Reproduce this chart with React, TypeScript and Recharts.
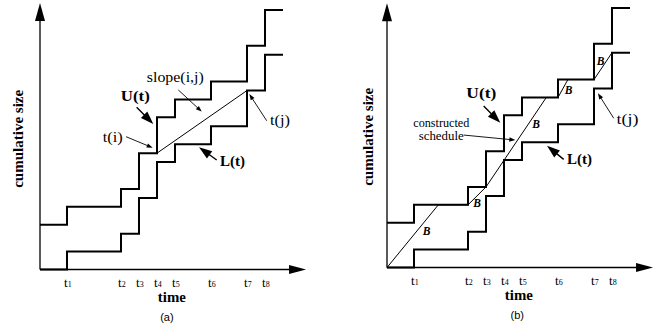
import React from 'react';
import { LineChart, Line, XAxis, YAxis, ReferenceLine, ReferenceDot } from 'recharts';

// ---- data (time units / cumulative size units) ----
const stepTimes = [0, 3, 9, 11, 13, 15, 19, 23, 25, 27];
const lowerCurve = [0, 1, 2, 4, 6, 7, 8, 10, 12, 12];
const upperCurve = [2.5, 3.5, 4.5, 6.5, 8.5, 9.5, 10.5, 12.5, 14.5, 14.5];
const tickTimes = [3, 9, 11, 13, 15, 19, 23, 25];
const tickLabels = ['1', '2', '3', '4', '5', '6', '7', '8'];
const slopeTimes = [13, 23];
const slopeValues = [6.5, 10];
const scheduleTimes = [0, 5.7, 9, 11, 17.7, 19, 20.1, 23, 25];
const scheduleValues = [0, 3.5, 3.5, 4.5, 9.5, 9.5, 10.5, 10.5, 12];
const bufferLabelTimes = [4.39, 10.02, 16.56, 20.17, 23.72];
const bufferLabelValues = [2.06, 3.61, 7.99, 9.89, 11.53];

const SERIF = '"Liberation Serif", "Times New Roman", serif';
const SANS = '"Liberation Sans", Arial, sans-serif';

const rows = (xs: number[], ys: number[]) => xs.map((t, i) => ({ t, v: ys[i] }));
const upperRows = rows(stepTimes, upperCurve);
const lowerRows = rows(stepTimes, lowerCurve);
const slopeRows = rows(slopeTimes, slopeValues);
const scheduleRows = rows(scheduleTimes, scheduleValues);

const arrowShape = (head: number, w: number, sw: number) => (p: any) => {
  const { x1, y1, x2, y2 } = p;
  const dx = x2 - x1;
  const dy = y2 - y1;
  const len = Math.hypot(dx, dy) || 1;
  const ux = dx / len;
  const uy = dy / len;
  const bx = x2 - ux * head;
  const by = y2 - uy * head;
  const px = (-uy * w) / 2;
  const py = (ux * w) / 2;
  return (
    <g>
      <line x1={x1} y1={y1} x2={bx + ux} y2={by + uy} stroke="#000" strokeWidth={sw} />
      <polygon points={`${x2},${y2} ${bx + px},${by + py} ${bx - px},${by - py}`} fill="#000" />
    </g>
  );
};

type LabelOpts = {
  size: number;
  weight?: string;
  style?: string;
  family?: string;
  len?: number;
  anchor?: string;
  rotate?: boolean;
  baseline?: string;
};

const textShape = (text: string, o: LabelOpts) => (p: any) => (
  <text
    x={p.cx}
    y={p.cy}
    textAnchor={o.anchor ?? 'middle'}
    dominantBaseline={o.baseline}
    fontFamily={o.family ?? SERIF}
    fontSize={o.size}
    fontWeight={o.weight ?? 'normal'}
    fontStyle={o.style ?? 'normal'}
    textLength={o.len}
    lengthAdjust={o.len ? 'spacingAndGlyphs' : undefined}
    transform={o.rotate ? `rotate(-90 ${p.cx} ${p.cy})` : undefined}
    fill="#000"
  >
    {text}
  </text>
);

const tickShape = (label: string) => (p: any) => (
  <text x={p.cx - 3} y={p.cy} fontFamily={SERIF} fontSize={13} fill="#000">
    t<tspan fontSize={8}>{label}</tspan>
  </text>
);

const thinArrow = arrowShape(6, 4.5, 0.9);
const fatArrow = arrowShape(13, 9, 1.4);
const axisArrow = (head: number, w: number) => arrowShape(head, w, 1.3);

type Ann = { text: string; x: number; y: number; o: LabelOpts };
type Arr = { from: [number, number]; to: [number, number]; fat?: boolean };

function Panel(props: {
  left: number;
  margin: { top: number; right: number; bottom: number; left: number };
  yDomain: [number, number];
  yTip: number;
  caption: string;
  annotations: Ann[];
  arrows: Arr[];
  slope?: boolean;
  schedule?: boolean;
}) {
  const { left, margin, yDomain, yTip, caption, annotations, arrows, slope, schedule } = props;
  const all: Ann[] = [
    { text: 'cumulative size', x: props.schedule ? -1.5 : -1.89, y: 7.3, o: { size: 15, weight: 'bold', len: 98, rotate: true } },
    { text: 'time', x: 14.65, y: -1.8, o: { size: 14.5, weight: 'bold', len: 28 } },
    { text: caption, x: props.schedule ? 14.48 : 14.1, y: -2.9, o: { size: 11, family: SANS } },
    ...annotations,
  ];
  return (
    <div style={{ position: 'absolute', left, top: 0 }}>
      <LineChart width={330} height={328} margin={margin}>
        <XAxis type="number" dataKey="t" domain={[-4, 30]} allowDataOverflow hide />
        <YAxis type="number" dataKey="v" domain={yDomain} allowDataOverflow hide />
        <ReferenceLine segment={[{ x: 0, y: 0 }, { x: 29.56, y: 0 }]} shape={axisArrow(17, 9)} />
        <ReferenceLine segment={[{ x: 0, y: 0 }, { x: 0, y: yTip }]} shape={axisArrow(18, 10)} />
        <Line data={upperRows} dataKey="v" type="stepAfter" stroke="#000" strokeWidth={2} dot={false} activeDot={false} isAnimationActive={false} />
        <Line data={lowerRows} dataKey="v" type="stepAfter" stroke="#000" strokeWidth={2} dot={false} activeDot={false} isAnimationActive={false} />
        {slope && (
          <Line data={slopeRows} dataKey="v" type="linear" stroke="#000" strokeWidth={1} dot={false} activeDot={false} isAnimationActive={false} />
        )}
        {schedule && (
          <Line data={scheduleRows} dataKey="v" type="linear" stroke="#000" strokeWidth={1} dot={false} activeDot={false} isAnimationActive={false} />
        )}
        {schedule &&
          bufferLabelTimes.map((t, i) => (
            <ReferenceDot key={'b' + i} x={t} y={bufferLabelValues[i]} r={0} shape={textShape('B', { size: 11.5, weight: 'bold', style: 'italic', baseline: 'central' })} />
          ))}
        {tickTimes.map((t, i) => (
          <ReferenceDot key={'tk' + i} x={t} y={-0.97} r={0} shape={tickShape(tickLabels[i])} />
        ))}
        {arrows.map((a, i) => (
          <ReferenceLine
            key={'ar' + i}
            segment={[{ x: a.from[0], y: a.from[1] }, { x: a.to[0], y: a.to[1] }]}
            shape={a.fat ? fatArrow : thinArrow}
          />
        ))}
        {all.map((a, i) => (
          <ReferenceDot key={'an' + i} x={a.x} y={a.y} r={0} shape={textShape(a.text, a.o)} />
        ))}
      </LineChart>
    </div>
  );
}

const annA: Ann[] = [
  { text: 'slope(i,j)', x: 15.03, y: 10.47, o: { size: 14, len: 57 } },
  { text: 'U(t)', x: 10.59, y: 9.44, o: { size: 14.5, weight: 'bold', len: 29 } },
  { text: 't(i)', x: 8.08, y: 7.12, o: { size: 14, len: 20 } },
  { text: 'L(t)', x: 21.39, y: 5.78, o: { size: 14.5, weight: 'bold', len: 25 } },
  { text: 't(j)', x: 26.67, y: 8.1, o: { size: 14, len: 20 } },
];
const arrA: Arr[] = [
  { from: [15.37, 10.03], to: [17.97, 8.82] },
  { from: [10.74, 9.06], to: [12.59, 8.13], fat: true },
  { from: [9.56, 7.42], to: [12.52, 6.8] },
  { from: [19.63, 6.12], to: [17.67, 6.83], fat: true },
  { from: [25.19, 8.31], to: [23.26, 9.8] },
];

const annB: Ann[] = [
  { text: 'U(t)', x: 10.48, y: 9.47, o: { size: 14.5, weight: 'bold', len: 30 } },
  { text: 'constructed', x: 6.03, y: 7.85, o: { size: 12, len: 56 } },
  { text: 'schedule', x: 6.02, y: 7.12, o: { size: 12, len: 45 } },
  { text: 'L(t)', x: 21.39, y: 5.78, o: { size: 14.5, weight: 'bold', len: 25 } },
  { text: 't(j)', x: 26.72, y: 8.02, o: { size: 14, len: 22 } },
];
const arrB: Arr[] = [
  { from: [10.74, 9.02], to: [12.59, 8.09], fat: true },
  { from: [8.52, 7.4], to: [14.26, 7.12] },
  { from: [19.63, 6.04], to: [17.78, 6.8], fat: true },
  { from: [25.19, 8.34], to: [23.44, 9.73] },
];

export default function App() {
  return (
    <div style={{ position: 'absolute', left: 0, top: 0, width: 667, height: 328, background: '#fff' }}>
      <Panel
        left={0}
        margin={{ top: 1, right: 20, bottom: 1.22, left: 4 }}
        yDomain={[-3.2, 15]}
        yTip={14.89}
        caption="(a)"
        annotations={annA}
        arrows={arrA}
        slope
      />
      <Panel
        left={337}
        margin={{ top: 0.8, right: 10, bottom: 3.2, left: 14 }}
        yDomain={[-3.2, 14.9]}
        yTip={14.76}
        caption="(b)"
        annotations={annB}
        arrows={arrB}
        schedule
      />
    </div>
  );
}
